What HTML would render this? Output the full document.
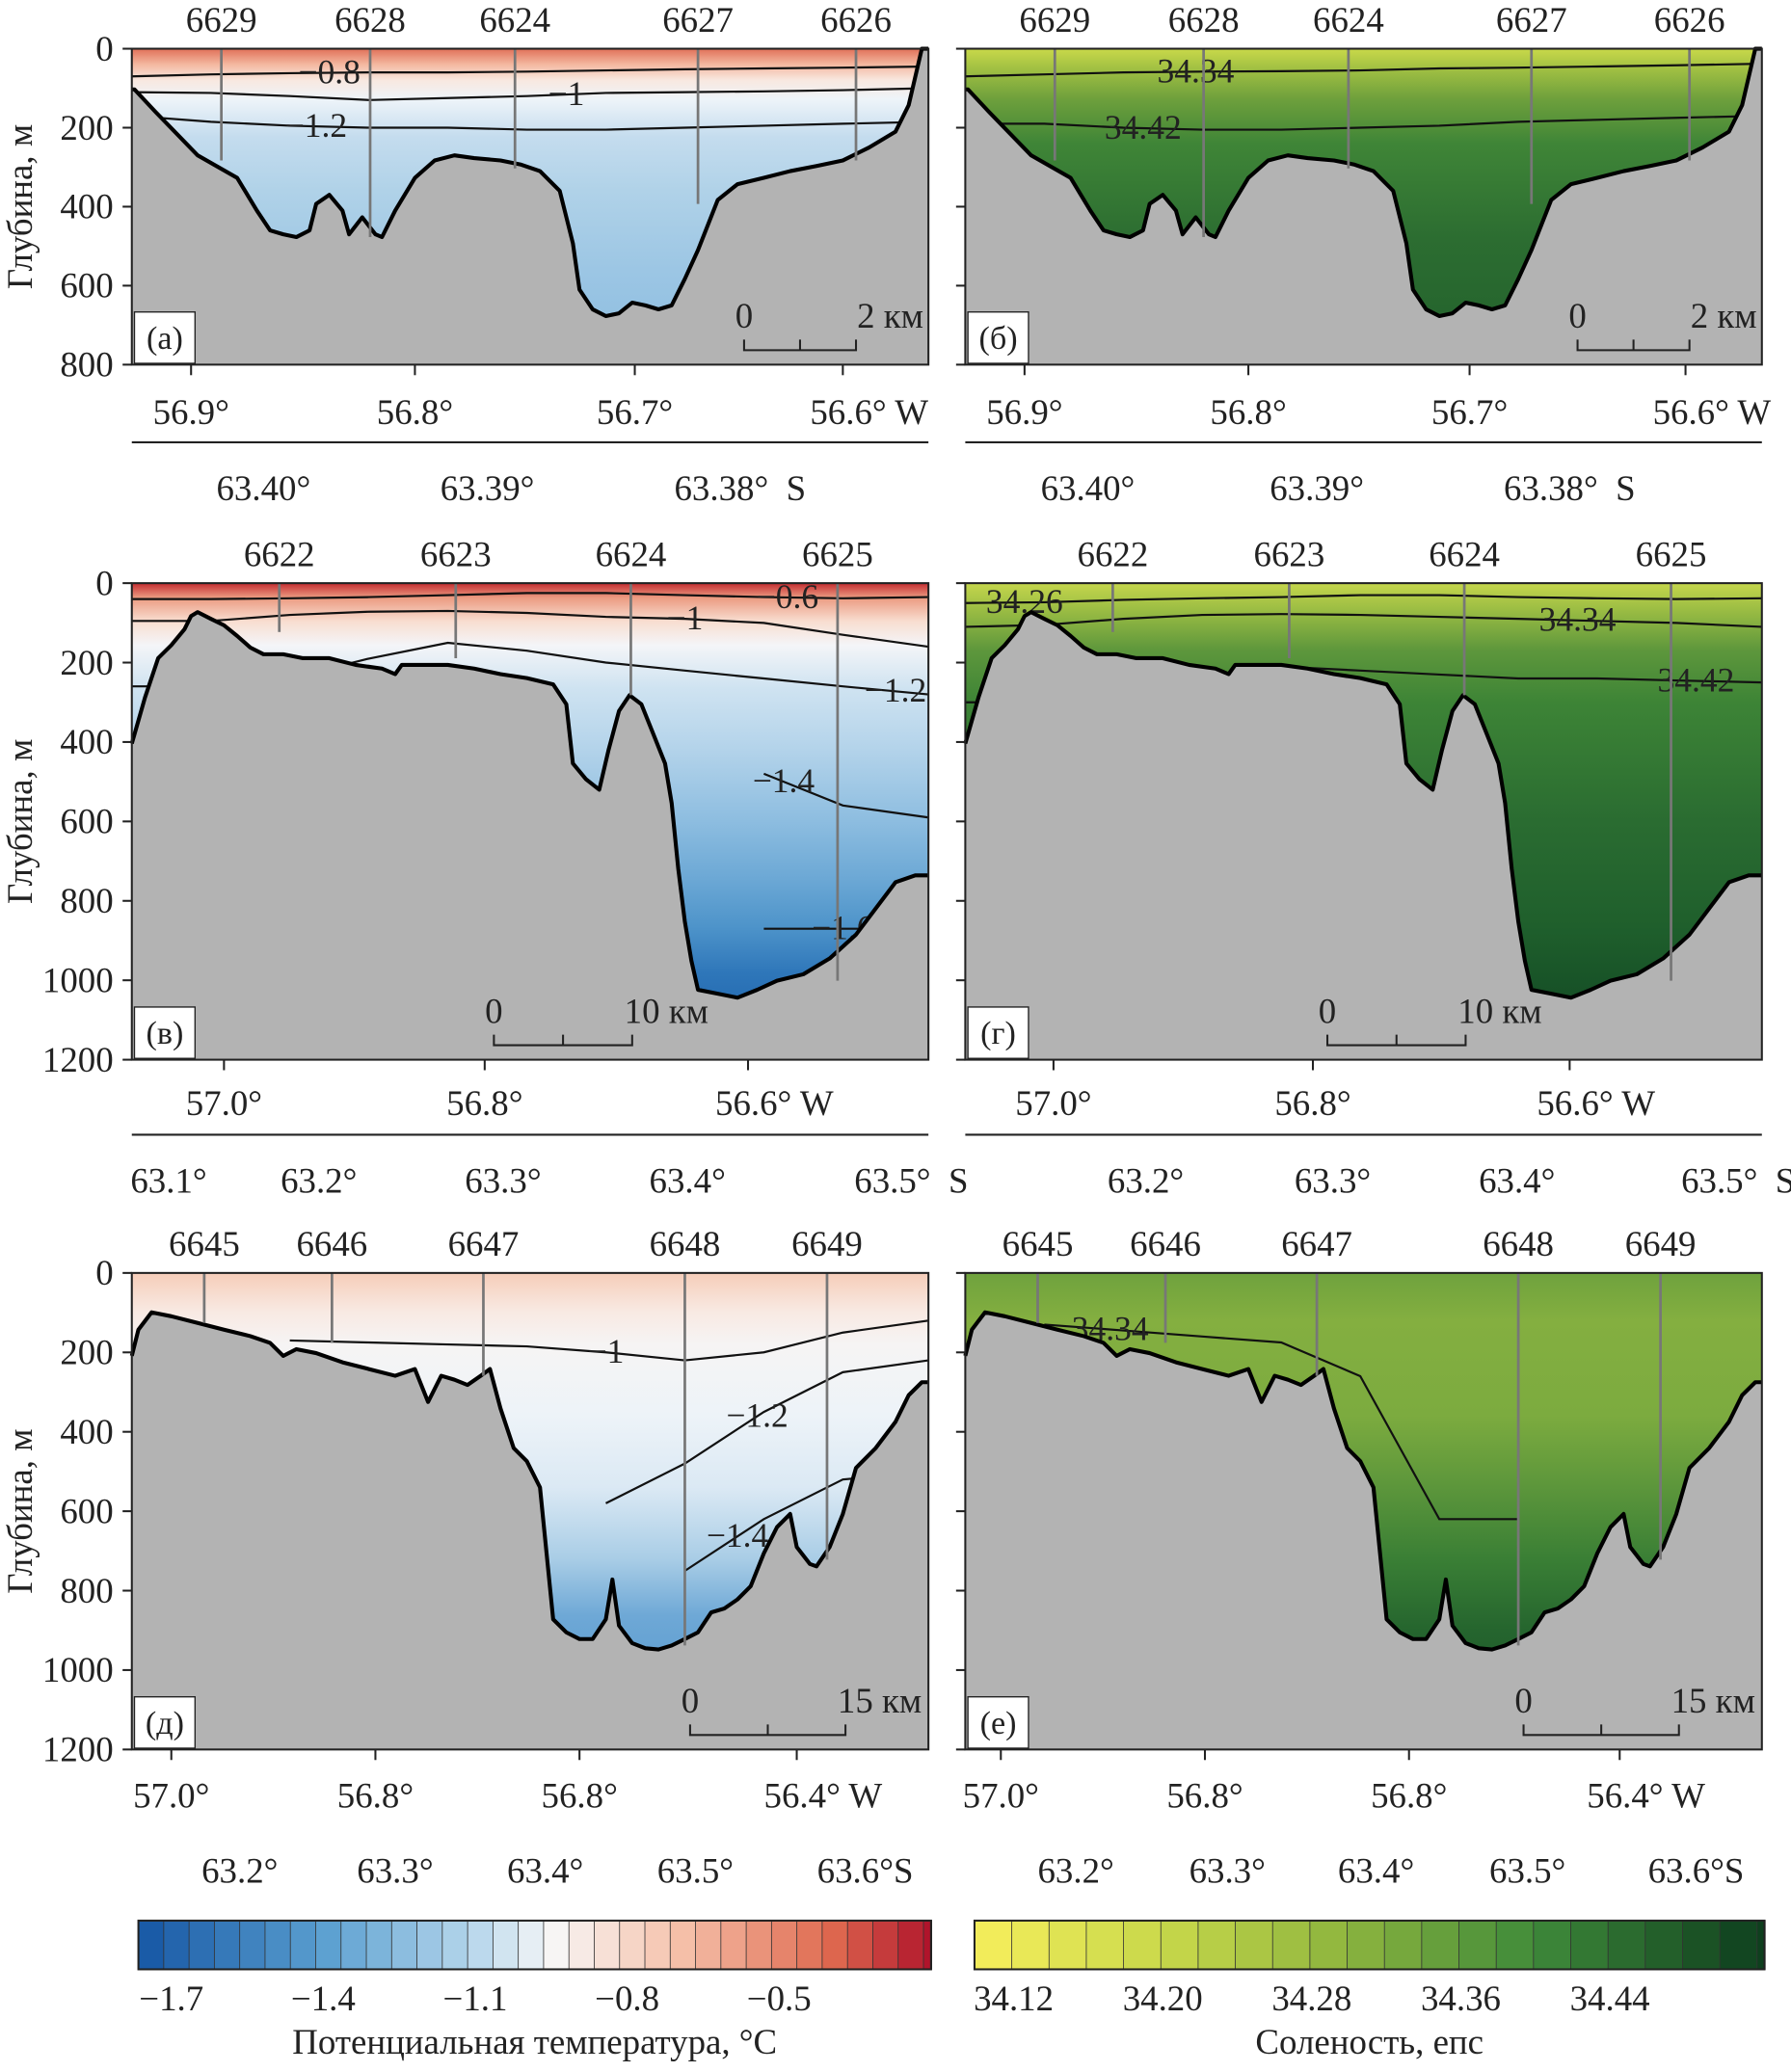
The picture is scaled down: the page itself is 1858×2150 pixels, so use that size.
<!DOCTYPE html>
<html><head><meta charset="utf-8">
<style>
html,body{margin:0;padding:0;background:#fff;}
svg{display:block;}
svg text{font-family:"Liberation Serif","DejaVu Serif",serif !important;fill:#222;}
</style></head>
<body>
<svg id="fig" xmlns="http://www.w3.org/2000/svg" width="1858" height="2150" viewBox="0 0 1360 1574" font-family="Liberation Serif, serif">
<defs>
<linearGradient id="gT1" gradientUnits="userSpaceOnUse" x1="0" y1="37" x2="0" y2="277">
<stop offset="0" stop-color="#e07058"/><stop offset="0.05" stop-color="#f4b8a0"/><stop offset="0.1" stop-color="#f8e8e0"/><stop offset="0.16" stop-color="#eef4f9"/><stop offset="0.28" stop-color="#c4dcee"/><stop offset="0.45" stop-color="#b0d2e8"/><stop offset="0.7" stop-color="#9cc6e4"/><stop offset="1" stop-color="#8bbce0"/></linearGradient>
<linearGradient id="gS1" gradientUnits="userSpaceOnUse" x1="0" y1="37" x2="0" y2="277">
<stop offset="0" stop-color="#c9d94a"/><stop offset="0.06" stop-color="#a3c143"/><stop offset="0.16" stop-color="#6ea03c"/><stop offset="0.3" stop-color="#3f8537"/><stop offset="0.6" stop-color="#2c6d31"/><stop offset="1" stop-color="#22612c"/></linearGradient>
<linearGradient id="gT2" gradientUnits="userSpaceOnUse" x1="0" y1="443" x2="0" y2="805">
<stop offset="0" stop-color="#c42c30"/><stop offset="0.03" stop-color="#eb9a80"/><stop offset="0.08" stop-color="#f8ddd0"/><stop offset="0.13" stop-color="#f4f5f8"/><stop offset="0.22" stop-color="#cfe3f1"/><stop offset="0.35" stop-color="#b3d3ea"/><stop offset="0.5" stop-color="#8dbde0"/><stop offset="0.62" stop-color="#6ca8d5"/><stop offset="0.72" stop-color="#4e94ca"/><stop offset="0.82" stop-color="#2e76b9"/><stop offset="1" stop-color="#1a5ea9"/></linearGradient>
<linearGradient id="gS2" gradientUnits="userSpaceOnUse" x1="0" y1="443" x2="0" y2="805">
<stop offset="0" stop-color="#c5d64c"/><stop offset="0.06" stop-color="#98bb43"/><stop offset="0.14" stop-color="#5e973c"/><stop offset="0.25" stop-color="#3d8436"/><stop offset="0.5" stop-color="#2a6c31"/><stop offset="0.72" stop-color="#1f5f2c"/><stop offset="1" stop-color="#0f4422"/></linearGradient>
<linearGradient id="gT3" gradientUnits="userSpaceOnUse" x1="0" y1="967" x2="0" y2="1329">
<stop offset="0" stop-color="#f6cdb9"/><stop offset="0.08" stop-color="#f8e9e2"/><stop offset="0.15" stop-color="#f6f4f4"/><stop offset="0.3" stop-color="#edf3f8"/><stop offset="0.45" stop-color="#dbe9f4"/><stop offset="0.6" stop-color="#a9cde6"/><stop offset="0.72" stop-color="#6ea8d6"/><stop offset="1" stop-color="#4a90c8"/></linearGradient>
<linearGradient id="gS3" gradientUnits="userSpaceOnUse" x1="0" y1="967" x2="0" y2="1329">
<stop offset="0" stop-color="#6fa23d"/><stop offset="0.1" stop-color="#84af40"/><stop offset="0.3" stop-color="#7cab3f"/><stop offset="0.45" stop-color="#5c963b"/><stop offset="0.6" stop-color="#3a7f35"/><stop offset="0.75" stop-color="#25652e"/><stop offset="1" stop-color="#164d25"/></linearGradient>
</defs>
</svg>
<script>
// ---- data ----
const rowMaxDepth = [800, 1200, 1200];
const depthTicks1 = [0, 200, 400, 600, 800];
const depthTicks23 = [0, 200, 400, 600, 800, 1000, 1200];
// bathymetry (along-section units 0..605, depth m)
const bathyX1 = [0,2,18,50,80,95,105,115,125,135,140,150,160,165,175,185,190,200,215,230,245,260,280,295,310,325,335,340,350,360,370,380,390,400,410,420,430,445,460,480,500,520,540,560,580,590,597,600,605];
const bathyD1 = [103,103,160,270,327,410,460,470,477,460,393,370,410,470,427,470,477,410,327,283,270,277,283,293,310,360,493,610,660,677,670,643,650,660,650,583,510,383,343,327,310,297,283,250,210,143,43,0,0];
const bathyX2 = [0,10,20,30,40,45,50,60,70,80,90,100,115,130,150,170,190,200,205,220,240,260,280,300,320,330,335,345,355,362,370,378,387,395,405,410,415,420,425,430,445,460,475,490,510,530,550,565,580,595,605];
const bathyD2 = [404,288,189,156,116,83,73,90,106,133,162,179,179,189,189,206,215,229,206,206,206,215,229,239,255,305,454,494,520,421,322,282,305,371,454,554,719,852,951,1024,1034,1044,1024,1001,985,945,885,819,753,736,736];
const bathyX3 = [0,5,15,30,50,70,90,105,115,125,140,160,180,200,215,225,235,245,255,265,272,280,290,300,310,315,320,330,340,350,360,365,370,380,390,400,410,420,430,440,450,460,470,480,490,500,505,515,520,530,540,550,565,580,590,600,605];
const bathyD3 = [209,143,99,109,126,143,159,176,209,192,202,225,242,259,242,325,259,269,282,259,242,341,441,474,540,706,872,905,922,922,872,772,888,932,945,948,938,922,905,855,845,822,789,706,640,607,690,733,739,690,607,491,441,375,308,275,275];
// stations
const stNames1 = ["6629","6628","6624","6627","6626"];
const stX1 = [68,181,291,430,550];
const stD1 = [283,477,303,393,283];
const stNames2 = ["6622","6623","6624","6625"];
const stX2 = [112,246,379,536];
const stD2 = [123,189,282,1001];
const stNames3 = ["6645","6646","6647","6648","6649"];
const stX3 = [55,152,267,420,528];
const stD3 = [126,176,259,938,722];
// contours: temperature
const cX = [0,60,120,180,240,300,360,420,480,540,605];
const t1_08 = [70,65,62,60,60,58,55,52,50,48,45];
const t1_10 = [110,112,120,130,125,120,112,110,108,105,100];
const t1_12 = [170,185,195,200,200,205,205,200,195,190,185];
const t2_06 = [40,40,38,35,30,25,25,30,35,38,35];
const t2_10 = [95,95,80,72,70,75,85,90,100,130,160];
const t2_12 = [260,260,240,190,150,170,200,220,240,260,280];
const t2_14 = [null,null,null,null,null,null,null,null,480,560,590];
const t2_16 = [null,null,null,null,null,null,null,null,870,870,870];
const t3_10 = [null,null,170,175,180,185,200,220,200,150,120];
const t3_12 = [null,null,null,null,null,null,580,480,350,250,220];
const t3_14 = [null,null,null,null,null,null,null,750,620,520,500];
// contours: salinity
const s1_34 = [70,65,60,58,57,55,50,48,45,42,38];
const s1_42 = [190,190,200,205,205,200,195,185,180,175,170];
const s2_26 = [50,48,42,38,35,30,30,35,38,40,38];
const s2_34 = [110,105,90,80,78,80,85,90,95,100,110];
const s2_42 = [300,300,270,240,210,220,230,240,240,245,250];
const s3_34 = [null,130,145,160,175,260,620,620,null,null,null];
// colorbars
const tempTicks = [-1.7,-1.4,-1.1,-0.8,-0.5];
const tempRange = [-1.765,-0.2];
const salTicks = [34.12,34.20,34.28,34.36,34.44];
const salRange = [34.099,34.523];

// ---- layout ----
const NS = "http://www.w3.org/2000/svg";
const svg = document.getElementById('fig');
const rows = [{y0:37,h:240},{y0:443,h:362},{y0:967,h:362}];
const cols = [100,733];
const PW = 605;
function mk(tag, attrs, parent){const e=document.createElementNS(NS,tag);for(const k in attrs)e.setAttribute(k,attrs[k]);(parent||svg).appendChild(e);return e;}
function txt(x,y,s,size,anchor,parent){const t=mk('text',{x:x,y:y,'font-size':size,'text-anchor':anchor||'middle','font-family':'Liberation Serif, serif'},parent);t.textContent=s;return t;}
function xs(c,u){return cols[c]+u*PW/605;}
function ys(r,d){return rows[r].y0+d*rows[r].h/rowMaxDepth[r];}

const bathyX=[bathyX1,bathyX2,bathyX3], bathyD=[bathyD1,bathyD2,bathyD3];
const stNames=[stNames1,stNames2,stNames3], stX=[stX1,stX2,stX3], stD=[stD1,stD2,stD3];
const panelLetters=[["(а)","(б)"],["(в)","(г)"],["(д)","(е)"]];
const tContours=[[[t1_08,"−0.8",150],[t1_10,"−1",330],[t1_12,"−1.2",140]],[[t2_06,"−0.6",498],[t2_10,"−1",420],[t2_12,"−1.2",580],[t2_14,"−1.4",495],[t2_16,"−1.6",540]],[[t3_10,"−1",360],[t3_12,"−1.2",475],[t3_14,"−1.4",460]]];
const sContours=[[[s1_34,"34.34",175],[s1_42,"34.42",135]],[[s2_26,"34.26",45],[s2_34,"34.34",465],[s2_42,"34.42",555]],[[s3_34,"34.34",110]]];
const scaleBars=[[465,550,"2 км"],[275,380,"10 км"],[424,542,"15 км"]];

for(let r=0;r<3;r++){
 for(let c=0;c<2;c++){
  const g=mk('g',{});
  
  
  const x0=cols[c], y0=rows[r].y0, h=rows[r].h;
  mk('rect',{x:x0,y:y0,width:PW,height:h,fill:`url(#g${c===0?'T':'S'}${r+1})`},g);
  const cs=c===0?tContours[r]:sContours[r];
  cs.forEach(([arr,lab,lx])=>{
    let d='';arr.forEach((v,i)=>{if(v===null)return;d+=(d?'L':'M')+xs(c,cX[i]).toFixed(1)+','+ys(r,v).toFixed(1);});
    const p=mk('path',{d:d,fill:'none',stroke:'#111','stroke-width':1.6},g);
    
    
    let i=0;while(i<cX.length-1&&cX[i+1]<lx)i++;
    const v0=arr[i],v1=arr[Math.min(i+1,arr.length-1)];
    if(v0!==null&&v1!==null){const f=(lx-cX[i])/((cX[i+1]||cX[i]+1)-cX[i]);const yv=v0+(v1-v0)*f;
      const t=txt(xs(c,lx),ys(r,yv)+8,lab,26,'middle',g);}
  });
  let d='M'+xs(c,0)+','+(y0+h);
  bathyX[r].forEach((u,i)=>{d+='L'+xs(c,u).toFixed(1)+','+ys(r,bathyD[r][i]).toFixed(1);});
  d+='L'+xs(c,605)+','+ys(r,bathyD[r][bathyD[r].length-1]).toFixed(1)+'L'+xs(c,605)+','+(y0+h)+'Z';
  const bp=mk('path',{d:d,fill:'#b3b3b3',stroke:'none'},g);
  
  
  let d2='';bathyX[r].forEach((u,i)=>{d2+=(i?'L':'M')+xs(c,u).toFixed(1)+','+ys(r,bathyD[r][i]).toFixed(1);});
  mk('path',{d:d2,fill:'none',stroke:'#000','stroke-width':3,'stroke-linejoin':'round'},g);
  stX[r].forEach((u,i)=>{
    const l=mk('line',{x1:xs(c,u),y1:y0,x2:xs(c,u),y2:ys(r,stD[r][i]),stroke:'#777','stroke-width':2},g);
    
    
    const t=txt(xs(c,u),y0-13,stNames[r][i],27,'middle',g);
    
    
  });
  mk('rect',{x:x0,y:y0,width:PW,height:h,fill:'none',stroke:'#222','stroke-width':1.5},g);
  mk('rect',{x:x0+2,y:y0+h-40,width:46,height:39,fill:'#fff',stroke:'#222','stroke-width':1},g);
  txt(x0+25,y0+h-12,panelLetters[r][c],25,'middle',g);
  const sb=scaleBars[r], sy=y0+h-11;
  mk('path',{d:`M${x0+sb[0]},${sy-8}V${sy}H${x0+sb[1]}V${sy-8}M${x0+(sb[0]+sb[1])/2},${sy}V${sy-8}`,fill:'none',stroke:'#222','stroke-width':1.5},g);
  txt(x0+sb[0],sy-17,"0",27,'middle',g);
  txt(x0+sb[1]+26,sy-17,sb[2],27,'middle',g);
  const ticks=r===0?depthTicks1:depthTicks23;
  ticks.forEach(v=>{
    mk('line',{x1:x0-7,y1:ys(r,v),x2:x0,y2:ys(r,v),stroke:'#222','stroke-width':1.5},g);
    if(c===0)txt(x0-14,ys(r,v)+9,String(v),27,'end',g);
  });
  }
  const yt=txt(0,0,"Глубина, м",27,'middle');
  yt.setAttribute('transform',`translate(24,${rows[r].y0+rows[r].h/2}) rotate(-90)`);
  
  
}
const lonLabels=[
 [[145,"56.9°"],[315,"56.8°"],[482,"56.7°"],[660,"56.6° W"],[778,"56.9°"],[948,"56.8°"],[1116,"56.7°"],[1300,"56.6° W"]],
 [[170,"57.0°"],[368,"56.8°"],[588,"56.6° W"],[800,"57.0°"],[997,"56.8°"],[1212,"56.6° W"]],
 [[130,"57.0°"],[285,"56.8°"],[440,"56.8°"],[625,"56.4° W"],[760,"57.0°"],[915,"56.8°"],[1070,"56.8°"],[1250,"56.4° W"]]];
const latLabels=[
 [[200,"63.40°"],[370,"63.39°"],[562,"63.38°\u00a0\u00a0S"],[826,"63.40°"],[1000,"63.39°"],[1192,"63.38°\u00a0\u00a0S"]],
 [[128,"63.1°"],[242,"63.2°"],[382,"63.3°"],[522,"63.4°"],[692,"63.5°\u00a0\u00a0S"],[870,"63.2°"],[1012,"63.3°"],[1152,"63.4°"],[1320,"63.5°\u00a0\u00a0S"]],
 [[182,"63.2°"],[300,"63.3°"],[414,"63.4°"],[528,"63.5°"],[657,"63.6°S"],[817,"63.2°"],[932,"63.3°"],[1045,"63.4°"],[1160,"63.5°"],[1288,"63.6°S"]]];
const lonY=[322,847,1373], latY=[380,906,1430], lineY=[336,862,null];
for(let r=0;r<3;r++){
 lonLabels[r].forEach(([x,s])=>{const xx=s.indexOf('W')>0?x-20:x;mk('line',{x1:xx,y1:rows[r].y0+rows[r].h,x2:xx,y2:rows[r].y0+rows[r].h+8,stroke:'#222','stroke-width':1.5});const t=txt(x,lonY[r],s,27,'middle');});
 latLabels[r].forEach(([x,s])=>{const t=txt(x,latY[r],s,27,'middle');});
 if(lineY[r]){cols.forEach(c=>mk('line',{x1:c,y1:lineY[r],x2:c+PW,y2:lineY[r],stroke:'#222','stroke-width':1.5}));}
}
function lerpColor(stops,t){for(let i=0;i<stops.length-1;i++){if(t<=stops[i+1][0]||i===stops.length-2){const f=Math.max(0,Math.min(1,(t-stops[i][0])/(stops[i+1][0]-stops[i][0])));const a=stops[i][1],b=stops[i+1][1];const ca=[1,3,5].map(k=>parseInt(a.substr(k,2),16)),cb=[1,3,5].map(k=>parseInt(b.substr(k,2),16));return 'rgb('+ca.map((v,j)=>Math.round(v+(cb[j]-v)*f)).join(',')+')';}}}
const tStops=[[-1.8,"#0f4fa0"],[-1.4,"#5a9fd0"],[-1.1,"#b8d7ec"],[-0.95,"#f7f7f7"],[-0.7,"#f6c2ab"],[-0.4,"#df6a50"],[-0.2,"#b0142b"]];
const sStops=[[34.1,"#f6ee5c"],[34.2,"#c8d84a"],[34.3,"#8cb43e"],[34.4,"#3f8a3a"],[34.52,"#0e3f1e"]];
function colorbar(x0,x1,range,step,stops,ticks,dec,title,name){
 const g=mk('g',{});
 
 
 const sc=v=>x0+(v-range[0])/(range[1]-range[0])*(x1-x0);
 for(let v=range[0];v<range[1]-1e-9;v+=step){const a=sc(v),b=Math.min(sc(v+step),x1);mk('rect',{x:a,y:1459,width:b-a+0.5,height:37,fill:lerpColor(stops,v+step/2),stroke:'#333','stroke-width':0.6},g);}
 mk('rect',{x:x0,y:1459,width:x1-x0,height:37,fill:'none',stroke:'#222','stroke-width':1.5},g);
 ticks.forEach(v=>{txt(sc(v),1527,(v<0?'−':'')+Math.abs(v).toFixed(dec),27,'middle',g);});
 txt((x0+x1)/2,1560,title,27,'middle',g);
}
colorbar(105,707,tempRange,0.05,tStops,tempTicks,1,"Потенциальная температура, °C","temperature-colorbar");
colorbar(740,1340,salRange,0.02,sStops,salTicks,2,"Соленость, епс","salinity-colorbar");
</script>
</body></html>
